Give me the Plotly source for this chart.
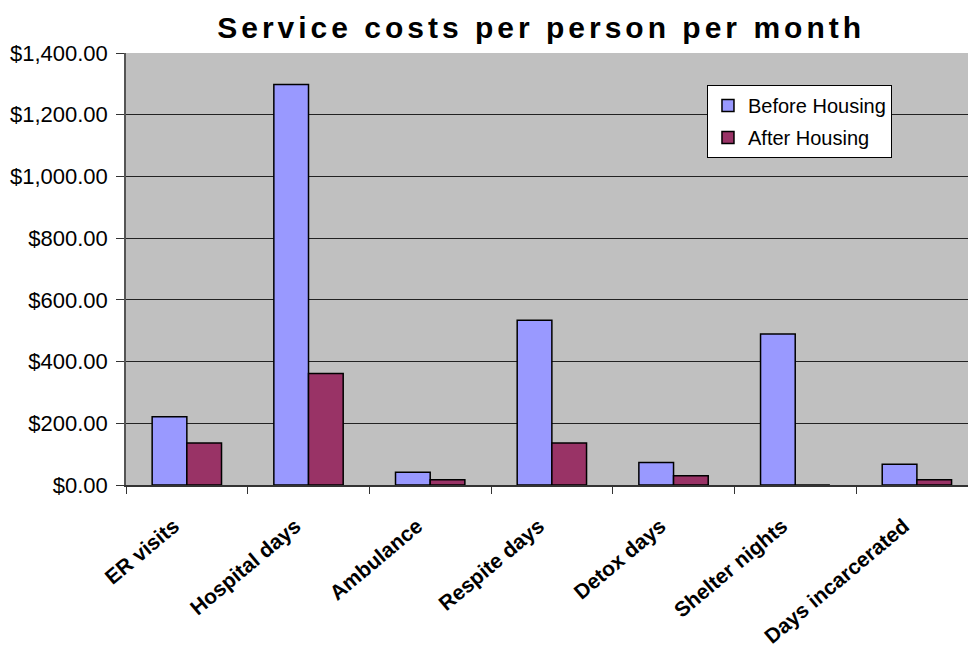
import plotly.graph_objects as go

categories = ["ER visits", "Hospital days", "Ambulance", "Respite days",
              "Detox days", "Shelter nights", "Days incarcerated"]
before_housing = [221, 1298, 41, 534, 73, 489, 67]
after_housing = [136, 361, 17, 136, 30, 0, 17]
y_tickvals = [0, 200, 400, 600, 800, 1000, 1200, 1400]
y_ticktext = ["$0.00", "$200.00", "$400.00", "$600.00", "$800.00",
              "$1,000.00", "$1,200.00", "$1,400.00"]

fig = go.Figure()
fig.add_trace(go.Bar(
    x=categories, y=before_housing, name="Before Housing",
    legendgroup="a",
    marker=dict(color="#9999FF", line=dict(color="#000000", width=1.5)),
))
fig.add_trace(go.Bar(
    x=categories, y=after_housing, name="After Housing",
    legendgroup="b",
    marker=dict(color="#993366", line=dict(color="#000000", width=1.5)),
))

fig.update_layout(
    width=968, height=656,
    margin=dict(l=126, r=0, t=53, b=171),
    paper_bgcolor="#FFFFFF",
    plot_bgcolor="#C0C0C0",
    barmode="group", bargap=0.43, bargroupgap=0,
    title=dict(
        text='<span style="letter-spacing:4px">Service costs per person per month</span>',
        x=0.559, xref="container", xanchor="center",
        y=1 - 27 / 656, yref="container", yanchor="middle",
        font=dict(family="Liberation Sans, Arial", size=30, color="#000000", weight="bold"),
    ),
    font=dict(family="Liberation Sans, Arial", size=20, color="#000000"),
    legend=dict(
        x=0.69, y=0.926, xanchor="left", yanchor="top",
        bgcolor="#FFFFFF", bordercolor="#000000", borderwidth=1,
        font=dict(size=20, family="Liberation Sans, Arial"),
        traceorder="grouped", tracegroupgap=3,
    ),
    showlegend=True,
)

fig.update_xaxes(
    range=[-0.5, 6.42],
    tickangle=-40,
    tickfont=dict(family="Liberation Sans, Arial", size=21, weight="bold"),
    tickson="boundaries",
    ticks="outside", ticklen=7, tickcolor="#333333",
    ticklabelstandoff=19, ticklabelshift=-13,
    showline=True, linecolor="#333333", linewidth=1.5,
    showgrid=False,
)
fig.update_yaxes(
    range=[0, 1400],
    tickvals=y_tickvals, ticktext=y_ticktext,
    tickfont=dict(family="Liberation Sans, Arial", size=22),
    ticks="outside", ticklen=8, tickcolor="#333333",
    ticklabelstandoff=4,
    showline=True, linecolor="#555555", linewidth=1.5,
    showgrid=True, gridcolor="#222222", gridwidth=1,
    zeroline=False,
)

fig.write_html("out.html")
